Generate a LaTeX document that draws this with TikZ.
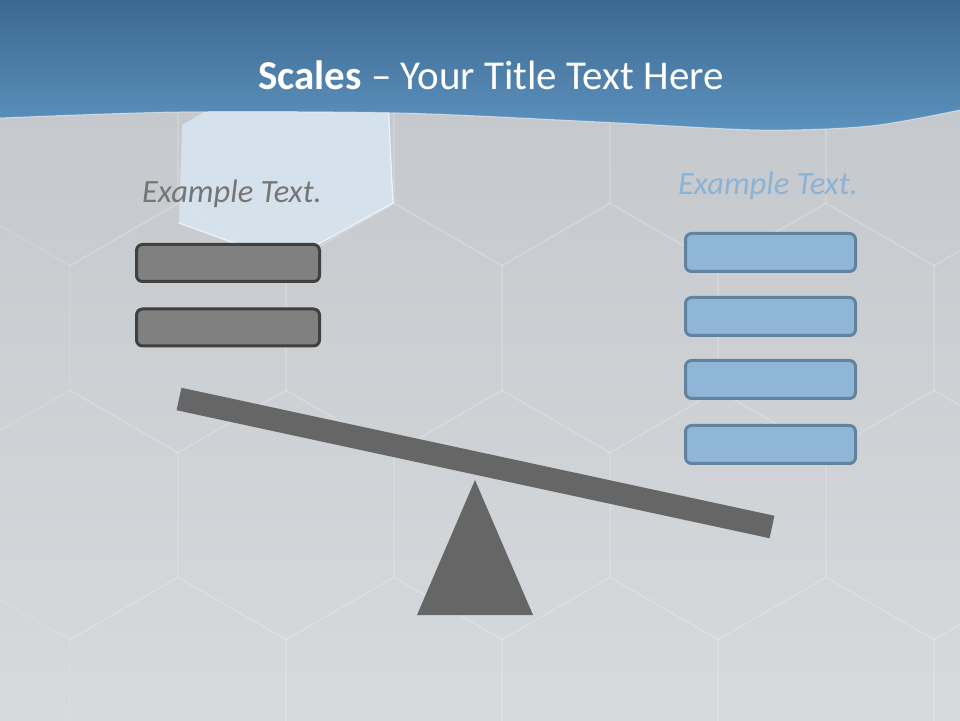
\documentclass[tikz,border=0pt]{standalone}
\usepackage{fontspec}
\setmainfont{Carlito}
\usetikzlibrary{positioning,calc}
\definecolor{bgTop}{RGB}{194,198,202}
\definecolor{bgBottom}{RGB}{214,218,221}
\definecolor{bandTop}{RGB}{60,104,144}
\definecolor{bandBottom}{RGB}{92,146,190}
\definecolor{hexLight}{RGB}{216,230,242}
\definecolor{beamGray}{RGB}{102,102,102}
\definecolor{leftFill}{RGB}{128,128,128}
\definecolor{leftEdge}{RGB}{64,64,64}
\definecolor{rightFill}{RGB}{143,182,214}
\definecolor{rightEdge}{RGB}{98,130,157}
\definecolor{leftText}{RGB}{118,118,118}
\definecolor{rightText}{RGB}{140,178,212}

\begin{document}
\begin{tikzpicture}[x=1pt,y=1pt,
    heavybox/.style={draw=leftEdge, fill=leftFill, line width=3pt, rounded corners=6pt,
      minimum width=183pt, minimum height=37pt, inner sep=0pt},
    lightbox/.style={draw=rightEdge, fill=rightFill, line width=3pt, rounded corners=6pt,
      minimum width=170pt, minimum height=38pt, inner sep=0pt},
    tiletrace/.style={draw=white, opacity=0.12, line width=1.5pt}]
    \useasboundingbox (0,0) rectangle (960,720);
    % Background
    \shade[top color=bgTop, bottom color=bgBottom] (0,0) rectangle (960,720);
    % Faint hexagon tiles
    \foreach \row in {0,...,4} {
      \foreach \col in {-1,...,4} {
        \pgfmathsetmacro{\cx}{286+216*\col+108*mod(\row,2)}
        \pgfmathsetmacro{\cy}{579-187*\row}
        \draw[tiletrace] (\cx,\cy) ++(90:125) -- ++(210:125) -- ++(270:125)
          -- ++(330:125) -- ++(30:125) -- ++(90:125) -- cycle;
      }
    }
    % Highlighted hexagon
    \fill[hexLight, opacity=0.85] (182,595) -- (179,497) -- (286,458) -- (393,517)
      -- (387,640) -- (284,654) -- cycle;
    \draw[white, opacity=0.7, line width=1.2pt] (179,497) -- (286,458) -- (393,517) -- (387,640);
    % Title band
    \shade[top color=bandTop, bottom color=bandBottom] (0,720)
      -- plot[smooth] coordinates {(0,602) (180,608) (400,607) (600,598) (760,590) (870,594) (960,610)}
      -- (960,720) -- cycle;
    \draw[white, opacity=0.5, line width=1pt] plot[smooth] coordinates
      {(0,602) (180,608) (400,607) (600,598) (760,590) (870,594) (960,610)};
    \node[text=white, font=\fontsize{41}{49}\selectfont] (title) at (491,645)
      {\textbf{Scales} – Your Title Text Here};
    % Left pan
    \node[text=leftText, font=\fontsize{32.5}{38}\selectfont\itshape] (lefthead) at (232,526) {Example Text.};
    \node[heavybox] (leftA) at (228,457) {};
    \node[heavybox] (leftB) at (228,392.5) {};
    % Right pan
    \node[text=rightText, font=\fontsize{32.5}{38}\selectfont\itshape] (righthead) at (768,534) {Example Text.};
    \node[lightbox] (rightA) at (770.5,467.5) {};
    \node[lightbox] (rightB) at (770.5,403.5) {};
    \node[lightbox] (rightC) at (770.5,340.5) {};
    \node[lightbox] (rightD) at (770.5,275.5) {};
    % Beam and fulcrum
    \draw[beamGray, line width=23pt] (179,321) -- (772,193);
    \fill[beamGray] (475,240) -- (533,105) -- (417,105) -- cycle;
\end{tikzpicture}
\end{document}
